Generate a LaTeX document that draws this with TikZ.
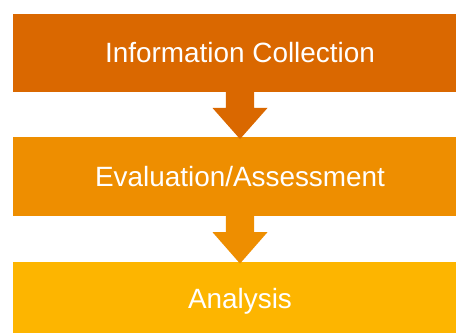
\documentclass[tikz,border=0pt]{standalone}
\usepackage{fontspec}
\setmainfont{Liberation Sans}
\usetikzlibrary{positioning,calc}

\definecolor{stageA}{RGB}{218,104,0}
\definecolor{stageB}{RGB}{238,142,0}
\definecolor{stageC}{RGB}{253,181,0}

\begin{document}
\begin{tikzpicture}[
    x=1bp, y=-1bp,
    % stage blocks (the right end runs off the page)
    stage/.style={rectangle, draw=none, text=white, inner sep=0pt,
                  font=\fontsize{28}{33}\selectfont,
                  minimum width=454bp, minimum height=78.5bp},
    % block arrows between stages
    flow/.style={draw=none}
  ]

  \useasboundingbox (0,0) rectangle (456,332);
  \clip (0,0) rectangle (456,332);

  % ===================== stages =====================
  \node[stage, fill=stageA] (collect) at (240,53)  {Information Collection};
  \node[stage, fill=stageB] (assess)  at (240,176.7) {Evaluation/Assessment};
  \node[stage, fill=stageC] (analyse) at (240,301.5) {Analysis};

  % ===================== block arrows =====================
  \fill[flow, stageA]
    ($(collect.south)+(-14.2,-0.5)$) -- ++(0,16) -- ++(-13.3,0)
    -- ($(assess.north)+(0,1.8)$)
    -- ($(collect.south)+(27.5,15.5)$) -- ++(-13.3,0) -- ++(0,-16) -- cycle;
  \fill[flow, stageB]
    ($(assess.south)+(-14.2,-0.5)$) -- ++(0,16.5) -- ++(-13.3,0)
    -- ($(analyse.north)+(0,1.5)$)
    -- ($(assess.south)+(27.5,16)$) -- ++(-13.3,0) -- ++(0,-16.5) -- cycle;

\end{tikzpicture}
\end{document}
